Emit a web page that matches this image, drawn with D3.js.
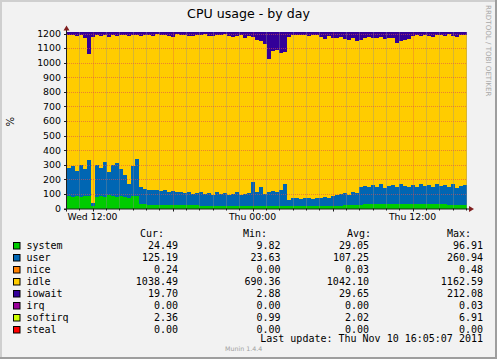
<!DOCTYPE html>
<html><head><meta charset="utf-8">
<script src="https://cdn.jsdelivr.net/npm/d3@7"></script>
<style>
html,body{margin:0;padding:0;background:#fff;}
svg{display:block;}
</style></head><body>
<svg id="chart" width="497" height="359"></svg>
<script>
const titleText = "CPU usage - by day";
const yTickValues = [0,100,200,300,400,500,600,700,800,900,1000,1100,1200];
const xTickLabels = ["Wed 12:00","Thu 00:00","Thu 12:00"];
const xTickTimes = [new Date(2011,10,9,12,0,0), new Date(2011,10,10,0,0,0), new Date(2011,10,10,12,0,0)];
const startTime = new Date(2011,10,9,10,5,7);
const endTime = new Date(2011,10,10,16,5,7);
const stepMinutes = 18;

const system = [85,80,85,80,85,85,20,80,85,80,90,85,80,85,80,70,85,85,
 28,28,27,26,26,25,25,24,24,23,23,22,22,21,21,20,20,19,19,18,18,18,17,17,17,17,17,17,
 17,17,17,16,16,16,16,16,16,
 15,15,15,15,15,15,15,15,15,
 16,16,17,18,20,22,24,25,26,
 27,28,28,28,28,29,29,29,29,29,30,30,30,30,30,30,30,30,29,29,28,28,27,27,26,25,24];
const user = [195,210,175,220,185,245,20,220,195,240,160,215,230,185,150,100,205,255,
 117,107,103,99,104,95,100,91,96,87,92,83,88,79,84,90,80,86,76,92,82,87,78,83,93,78,83,88,
 163,93,133,84,94,104,99,109,149,
 45,60,55,50,60,55,50,60,55,
 64,59,68,77,80,83,71,85,79,
 123,127,117,132,122,136,111,126,131,121,135,125,115,130,120,135,125,130,116,136,127,132,123,138,114,130,136];
const idle = [907,902,922,887,897,732,1137,887,902,872,927,887,872,917,962,1012,897,852,
 1040,1058,1058,1055,1065,1069,1066,1069,1059,1084,1073,1085,1073,1086,1088,1078,1095,1076,1090,1082,1089,1089,1091,1078,1073,1095,1072,1077,
 997,1047,997,1027,917,957,972,942,907,
 1117,1112,1122,1122,1117,1112,1122,1117,1107,
 1082,1107,1082,1077,1077,1057,1062,1057,1047,
 1007,1017,1032,1007,1022,1012,1022,1017,1007,987,987,1002,1017,1022,1039,1015,1038,1026,1032,1026,1033,1021,1045,1020,1039,1037,1027];
const iowait = [20,15,25,20,40,145,30,20,25,15,30,20,25,20,15,25,20,15,
 22,14,19,27,12,18,16,23,28,13,19,17,24,21,14,19,12,26,22,15,18,13,21,29,24,17,35,25,
 30,50,60,80,180,130,120,140,135,
 30,20,15,20,15,25,20,15,30,
 45,25,40,35,30,45,50,40,55,
 50,35,30,40,35,30,45,35,40,70,55,50,45,25,18,27,14,21,30,16,19,26,12,22,28,15,20];

const legendNames = ["system","user","nice","idle","iowait","irq","softirq","steal"];
const legendColors = ["#00CC00","#0066B3","#FF8000","#FFCC00","#330099","#990099","#CCFF00","#FF0000"];
const curValues = ["24.49","125.19","0.24","1038.49","19.70","0.00","2.36","0.00"];
const minValues = ["9.82","23.63","0.00","690.36","2.88","0.00","0.99","0.00"];
const avgValues = ["29.05","107.25","0.03","1042.10","29.65","0.00","2.02","0.00"];
const maxValues = ["96.91","260.94","0.48","1162.59","212.08","0.03","6.91","0.00"];
const headers = ["Cur:","Min:","Avg:","Max:"];
const lastUpdate = "Last update: Thu Nov 10 16:05:07 2011";
const footer = "Munin 1.4.4";
const watermark = "RRDTOOL / TOBI OETIKER";

const seriesKeys = ["system","user","idle","iowait"];
const seriesData = {system, user, idle, iowait};
const seriesColors = {system:"#00CC00", user:"#0066B3", idle:"#FFCC00", iowait:"#330099"};

(function(){
const svg = d3.select("#chart");
const W = 497, H = 359;
const pLeft = 67, pRight = 467, pTop = 33.5, pBottom = 208.5;

svg.append("rect").attr("width",W).attr("height",H).attr("fill","#F2F2F2");
svg.append("rect").attr("x",0).attr("y",0).attr("width",W).attr("height",2).attr("fill","#CFCFCF");
svg.append("rect").attr("x",0).attr("y",0).attr("width",2).attr("height",H).attr("fill","#CFCFCF");
svg.append("rect").attr("x",0).attr("y",H-2).attr("width",W).attr("height",2).attr("fill","#9E9E9E");
svg.append("rect").attr("x",W-2).attr("y",0).attr("width",2).attr("height",H).attr("fill","#9E9E9E");

const x = d3.scaleTime().domain([startTime,endTime]).range([pLeft,pRight]);
const y = d3.scaleLinear().domain([0,1200]).range([pBottom,pTop]);

svg.append("rect").attr("x",pLeft).attr("y",pTop).attr("width",pRight-pLeft).attr("height",pBottom-pTop).attr("fill","#fff");

const rows = system.map((_,i)=>{
  const r = {t: d3.timeMinute.offset(startTime, i*stepMinutes)};
  seriesKeys.forEach(k=>r[k]=seriesData[k][i]);
  return r;
});
rows.push(Object.assign({}, rows[rows.length-1], {t:endTime}));

const stacked = d3.stack().keys(seriesKeys)(rows);
const area = d3.area()
  .x(d=>x(d.data.t))
  .y0(d=>y(d[0]))
  .y1(d=>y(d[1]))
  .curve(d3.curveStepAfter);

svg.append("g").selectAll("path").data(stacked).join("path")
  .attr("d",area)
  .attr("fill",d=>seriesColors[d.key])
  .attr("shape-rendering","crispEdges");

const grid = svg.append("g");
const hours = d3.timeHour.range(startTime,endTime);
hours.forEach(h=>{
  const major = h.getHours()%6===0;
  const xp = Math.round(x(h))+0.5;
  grid.append("line").attr("x1",xp).attr("x2",xp).attr("y1",pTop-1).attr("y2",pBottom)
    .attr("stroke", major ? "rgba(222,79,79,0.6)" : "rgba(143,143,143,0.75)")
    .attr("stroke-width",1).attr("stroke-dasharray","1,1");
  grid.append("line").attr("x1",xp).attr("x2",xp).attr("y1",pBottom).attr("y2",pBottom+(major?3:2))
    .attr("stroke", "#1F1F1F").attr("stroke-width",1);
});
yTickValues.forEach(v=>{
  const yp = Math.round(y(v))+0.5;
  if(v>0){
    grid.append("line").attr("x1",pLeft).attr("x2",pRight).attr("y1",yp).attr("y2",yp)
      .attr("stroke","rgba(222,79,79,0.6)").attr("stroke-width",1).attr("stroke-dasharray","1,1");
  }
  grid.append("line").attr("x1",pLeft-3).attr("x2",pLeft).attr("y1",yp).attr("y2",yp)
    .attr("stroke","#1F1F1F").attr("stroke-width",1);
});

svg.append("line").attr("x1",pLeft-3).attr("x2",pRight+3).attr("y1",pBottom+0.5).attr("y2",pBottom+0.5)
  .attr("stroke","#1F1F1F").attr("stroke-width",1);
svg.append("line").attr("x1",pLeft-0.5).attr("x2",pLeft-0.5).attr("y1",pBottom+3).attr("y2",pTop-4)
  .attr("stroke","#1F1F1F").attr("stroke-width",1);
svg.append("path").attr("d",`M${pLeft-3.5},${pTop-3} L${pLeft-0.5},${pTop-8} L${pLeft+2.5},${pTop-3} Z`).attr("fill","#801F1F");
svg.append("path").attr("d",`M${pRight+2},${pBottom-2.5} L${pRight+7},${pBottom+0.5} L${pRight+2},${pBottom+3.5} Z`).attr("fill","#801F1F");

svg.append("g").selectAll("text").data(yTickValues).join("text")
  .attr("x",61).attr("y",v=>y(v)+3.4)
  .attr("text-anchor","end")
  .attr("font-family","DejaVu Sans").attr("font-size","9.4px").attr("fill","#000")
  .text(v=>v);

svg.append("g").selectAll("text").data(xTickTimes).join("text")
  .attr("x",d=>x(d)).attr("y",220.3)
  .attr("text-anchor","middle")
  .attr("font-family","DejaVu Sans").attr("font-size","9.3px").attr("fill","#000")
  .text((d,i)=>xTickLabels[i]);

svg.append("text").attr("x",248.5).attr("y",17.8).attr("text-anchor","middle")
  .attr("font-family","DejaVu Sans").attr("font-size","12.6px").attr("fill","#000").text(titleText);

svg.append("text").attr("transform","translate(13.5,121.7) rotate(-90)").attr("text-anchor","middle")
  .attr("font-family","DejaVu Sans").attr("font-size","10px").attr("fill","#000").text("%");

svg.append("text").attr("transform","translate(485.5,5) rotate(90)").attr("text-anchor","start")
  .attr("font-family","DejaVu Sans").attr("font-size","7.1px").attr("fill","#A8A8A8").text(watermark);

const mono = "DejaVu Sans Mono";
const headerX = [140,243,347,447];
headers.forEach((h,i)=>{
  svg.append("text").attr("x",headerX[i]).attr("y",237).attr("font-family",mono).attr("font-size","10px").attr("fill","#000").text(h);
});
const colRight = [178,280.5,369,483];
const cols = [curValues,minValues,avgValues,maxValues];
const lg = svg.append("g");
legendNames.forEach((n,i)=>{
  const by = 249.3 + i*12;
  lg.append("rect").attr("x",13.5).attr("y",by-6.8).attr("width",6.5).attr("height",6.5)
    .attr("fill",legendColors[i]).attr("stroke","#000").attr("stroke-width",1);
  lg.append("text").attr("x",26.5).attr("y",by).attr("font-family",mono).attr("font-size","10px").attr("fill","#000").text(n);
  cols.forEach((c,j)=>{
    lg.append("text").attr("x",colRight[j]).attr("y",by).attr("text-anchor","end")
      .attr("font-family",mono).attr("font-size","10px").attr("fill","#000").text(c[i]);
  });
});
svg.append("text").attr("x",225).attr("y",350.5).attr("font-family","DejaVu Sans").attr("font-size","6.3px").attr("fill","#A0A0A0").text(footer);
svg.append("text").attr("x",483).attr("y",342).attr("text-anchor","end").attr("font-family",mono).attr("font-size","10px").attr("fill","#000").text(lastUpdate);
})();
</script>
</body></html>
